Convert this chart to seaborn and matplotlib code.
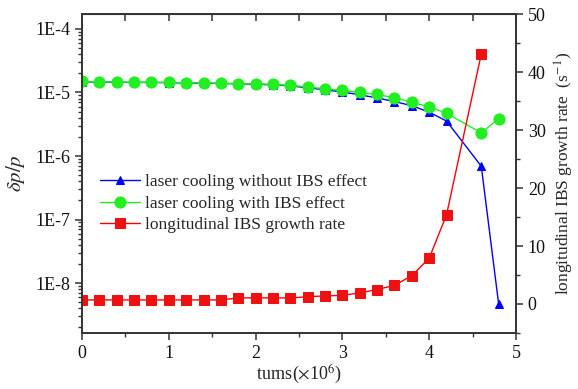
import numpy as np
import pandas as pd
import matplotlib
matplotlib.use("Agg")
import matplotlib.pyplot as plt
from matplotlib.ticker import MultipleLocator, FixedLocator, FuncFormatter, LogLocator, NullFormatter
import seaborn as sns

sns.set_style("ticks")
plt.rcParams['font.family'] = ['Liberation Serif', 'DejaVu Serif']
plt.rcParams['mathtext.fontset'] = 'stix'

# data
turns = [0.0, 0.2, 0.4, 0.6, 0.8, 1.0, 1.2, 1.4, 1.6, 1.8, 2.0, 2.2, 2.4, 2.6,
         2.8, 3.0, 3.2, 3.4, 3.6, 3.8, 4.0, 4.2, 4.6, 4.8]
dp_no_ibs = [1.47e-5, 1.46e-5, 1.45e-5, 1.44e-5, 1.44e-5, 1.43e-5, 1.41e-5, 1.40e-5,
             1.39e-5, 1.37e-5, 1.35e-5, 1.32e-5, 1.27e-5, 1.19e-5, 1.10e-5, 1.02e-5,
             0.92e-5, 0.82e-5, 0.72e-5, 0.62e-5, 0.49e-5, 0.355e-5, 6.9e-7, 4.7e-9]
dp_ibs = [1.49e-5, 1.47e-5, 1.46e-5, 1.45e-5, 1.45e-5, 1.44e-5, 1.42e-5, 1.41e-5,
          1.40e-5, 1.38e-5, 1.37e-5, 1.34e-5, 1.29e-5, 1.23e-5, 1.14e-5, 1.08e-5,
          1.00e-5, 0.93e-5, 0.825e-5, 0.70e-5, 0.595e-5, 0.47e-5, 0.232e-5, 0.385e-5]
ibs_rate = [0.7, 0.7, 0.7, 0.7, 0.7, 0.7, 0.7, 0.7, 0.7, 1.05, 1.05, 1.05, 1.05, 1.25,
            1.4, 1.5, 1.9, 2.5, 3.2, 4.9, 7.9, 15.4, 43.1]
turns_rate = turns[:23]

labels = ["laser cooling without IBS effect", "laser cooling with IBS effect",
          "longitudinal IBS growth rate"]

fig = plt.figure(figsize=(5.78, 3.89), dpi=100)
ax = fig.add_axes([82/578, 1-333/389, (516-82)/578, (333-14)/389])
ax2 = ax.twinx()

sns.lineplot(x=turns, y=dp_no_ibs, ax=ax, color='#0000ff', marker='^', markersize=6,
             markeredgecolor='#0000ff', linewidth=1.0, label=labels[0], legend=False)
sns.lineplot(x=turns, y=dp_ibs, ax=ax, color='#22ee22', marker='o', markersize=8,
             markeredgecolor='#22ee22', linewidth=1.0, label=labels[1], legend=False)
sns.lineplot(x=turns_rate, y=ibs_rate, ax=ax2, color='#ff0000', marker='s', markersize=6.5,
             markerfacecolor='#ee1111', markeredgecolor='#ee1111', linewidth=1.0,
             label=labels[2], legend=False)

ax.set_yscale('log')
ax.set_ylim(10**-8.787, 10**-3.764)
ax.set_xlim(0, 5)
ax2.set_ylim(-5, 50)

ax.yaxis.set_major_locator(FixedLocator([1e-8, 1e-7, 1e-6, 1e-5, 1e-4]))
ax.yaxis.set_major_formatter(FuncFormatter(lambda v, p: "1E%d" % int(round(np.log10(v)))))
ax.yaxis.set_minor_locator(LogLocator(base=10, subs=np.arange(2, 10)))
ax.yaxis.set_minor_formatter(NullFormatter())
ax.xaxis.set_major_locator(MultipleLocator(1))
ax.xaxis.set_minor_locator(MultipleLocator(0.5))
ax2.yaxis.set_major_locator(MultipleLocator(10))
ax2.yaxis.set_minor_locator(MultipleLocator(5))

for a in (ax, ax2):
    for s in a.spines.values():
        s.set_visible(True)
        s.set_color('#333333')
        s.set_linewidth(1.2)

ax.tick_params(axis='both', which='major', labelsize=13, length=5, width=1.1,
               direction='out', colors='#333333', labelcolor='#111111')
ax.tick_params(axis='both', which='minor', length=3, width=1.0, direction='out', colors='#333333')
ax2.tick_params(axis='y', which='major', labelsize=13, length=5, width=1.1, direction='out',
                colors='#333333', labelcolor='#111111')
ax2.tick_params(axis='y', which='minor', length=3, width=1.0, direction='out', colors='#333333')

# top ticks inward
sec = ax.secondary_xaxis('top')
sec.xaxis.set_major_locator(MultipleLocator(0.5))
sec.tick_params(direction='in', length=5, width=1.1, colors='#333333', labeltop=False)
ax.tick_params(axis='x', which='both', top=False)

ax.set_xlabel(r"turns($\times$10$^6$)", fontsize=13, labelpad=1)
ax.set_ylabel(r"$\delta p/p$", fontsize=15, labelpad=6)
ax2.set_ylabel(r"longitudinal IBS growth rate  (s$^{-1}$)", fontsize=12.5, labelpad=5)

h1, l1 = ax.get_legend_handles_labels()
h2, l2 = ax2.get_legend_handles_labels()
ax2.legend(h1 + h2, l1 + l2, loc='upper left', bbox_to_anchor=(0.025, 0.52),
           frameon=False, fontsize=12.5, handlelength=2.3, handletextpad=0.3,
           labelspacing=0.3, borderaxespad=0)

fig.savefig("out.png", dpi=100)
